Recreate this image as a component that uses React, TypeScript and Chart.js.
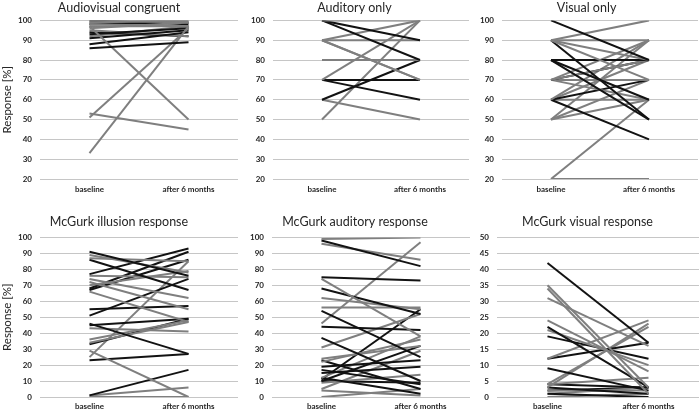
import React, { useEffect, useRef } from 'react';
import { Chart, registerables } from 'chart.js';

Chart.register(...registerables);

const categories = ['baseline', 'after 6 months'];

// 1 = black line, 0 = gray line
const avBase = [99, 100, 98, 86, 97, 33, 88, 51, 91, 96, 93, 53, 95, 100, 97, 94, 99, 92, 98];
const avAfter = [100, 99, 97, 89, 50, 97, 94, 96, 95, 99, 96, 45, 92, 98, 97, 92, 100, 97, 99];
const avGroup = [0, 0, 0, 1, 0, 0, 1, 0, 1, 0, 1, 0, 0, 1, 0, 1, 0, 0, 1];

const audBase = [100, 100, 100, 90, 90, 90, 90, 80, 70, 70, 70, 60, 60, 50];
const audAfter = [100, 90, 80, 100, 90, 70, 70, 80, 100, 70, 60, 80, 50, 100];
const audGroup = [0, 1, 1, 0, 0, 0, 0, 0, 0, 1, 1, 1, 0, 0];

const visBase = [100, 90, 90, 90, 90, 90, 80, 80, 80, 70, 70, 70, 70, 70, 60, 60, 60, 60, 60, 50, 50, 50, 20, 20];
const visAfter = [80, 100, 90, 80, 70, 50, 60, 80, 50, 90, 80, 80, 60, 70, 90, 70, 40, 80, 60, 60, 70, 90, 60, 20];
const visGroup = [1, 0, 0, 0, 0, 1, 1, 1, 1, 0, 0, 1, 0, 0, 0, 1, 1, 0, 0, 0, 0, 0, 0, 0];

const illBase = [91, 89, 87, 86, 77, 76, 74, 72, 70, 68, 67, 66, 55, 51, 46, 45, 43, 36, 34, 33, 29, 25, 23, 1, 1, 0];
const illAfter = [76, 78, 85, 67, 93, 75, 62, 55, 79, 91, 86, 47, 57, 74, 27, 49, 41, 48, 47, 49, 0, 85, 27, 17, 6, 0];
const illGroup = [1, 0, 0, 1, 1, 0, 0, 0, 0, 1, 1, 0, 1, 1, 1, 1, 0, 0, 0, 1, 0, 0, 1, 1, 0, 0];

const audRBase = [99, 98, 96, 75, 74, 68, 62, 56, 54, 46, 44, 37, 31, 24, 22, 23, 19, 17, 15, 12, 11, 10, 12, 9, 5, 4, 10, 0];
const audRAfter = [100, 82, 86, 73, 38, 52, 55, 56, 25, 97, 42, 10, 52, 32, 36, 5, 23, 8, 19, 38, 55, 32, 2, 14, 29, 1, 9, 5];
const audRGroup = [0, 1, 0, 1, 0, 1, 0, 0, 1, 0, 1, 1, 0, 0, 0, 1, 1, 1, 1, 0, 1, 1, 1, 0, 0, 0, 1, 0];

const visRBase = [42, 35, 34, 31, 24, 22, 21, 19, 12, 12, 9, 4, 3, 4, 4, 3, 2, 1, 1, 0, 2];
const visRAfter = [17, 3, 1, 16, 8, 3, 10, 12, 24, 17, 2, 22, 23, 6, 3, 1, 2, 0, 3, 1, 3];
const visRGroup = [1, 0, 0, 0, 0, 1, 0, 1, 0, 1, 1, 0, 0, 0, 1, 1, 0, 1, 0, 0, 1];

const FONT = 'Lato, "Open Sans", sans-serif';
const BLACK = '#121212';
const GRAY = '#7f7f7f';
const TEXT = '#262626';

type PanelProps = {
  title: string;
  base: number[];
  after: number[];
  group: number[];
  min: number;
  max: number;
  step: number;
  left: number;
  top: number;
  width: number;
  height: number;
  axisW: number;
  padRight: number;
  showYTitle: boolean;
  titlePadTop: number;
  titlePadBottom: number;
  xAxisH: number;
  xTickPad: number;
};

function Panel(p: PanelProps) {
  const ref = useRef<HTMLCanvasElement | null>(null);
  useEffect(() => {
    if (!ref.current) return;
    const datasets = p.base.map((b, i) => ({
      data: [b, p.after[i]],
      borderColor: p.group[i] ? BLACK : GRAY,
      backgroundColor: p.group[i] ? BLACK : GRAY,
      borderWidth: 2,
      pointRadius: 0,
      fill: false,
      tension: 0,
    }));
    const chart = new Chart(ref.current, {
      type: 'line',
      data: { labels: categories, datasets },
      options: {
        responsive: false,
        animation: false,
        layout: { padding: { left: 0, right: p.padRight, top: 0, bottom: 0 } },
        plugins: {
          legend: { display: false },
          tooltip: { enabled: false },
          title: {
            display: true,
            text: p.title,
            color: TEXT,
            font: { family: FONT, size: 12.5, weight: 'normal' },
            padding: { top: p.titlePadTop, bottom: p.titlePadBottom },
          },
        },
        scales: {
          x: {
            offset: true,
            grid: { display: false, drawTicks: false },
            border: { display: false },
            ticks: {
              color: TEXT,
              font: { family: FONT, size: 8, weight: 'bold' },
              padding: p.xTickPad,
              maxRotation: 0,
            },
            afterFit: (s: any) => {
              s.height = p.xAxisH;
            },
          },
          y: {
            min: p.min,
            max: p.max,
            ticks: {
              stepSize: p.step,
              padding: 8,
              color: TEXT,
              font: { family: FONT, size: 8, weight: 'bold' },
            },
            grid: { color: '#c6c6c6', drawTicks: false, lineWidth: 1 },
            border: { display: false },
            title: {
              display: p.showYTitle,
              text: 'Response [%]',
              color: TEXT,
              font: { family: FONT, size: 11.5, weight: 'normal' },
              padding: 0,
            },
            afterFit: (s: any) => {
              s.width = p.axisW;
            },
          },
        },
      },
    } as any);
    return () => chart.destroy();
  }, []);
  return (
    <canvas
      ref={ref}
      width={p.width}
      height={p.height}
      style={{ position: 'absolute', left: p.left, top: p.top, width: p.width, height: p.height }}
    />
  );
}

export default function App() {
  const topRow = { top: 0, height: 200, titlePadTop: 0, titlePadBottom: 5.4, xAxisH: 21, xTickPad: 6 };
  const botRow = { top: 200, height: 210, titlePadTop: 14, titlePadBottom: 8.4, xAxisH: 13, xTickPad: 5 };
  return (
    <div style={{ position: 'absolute', left: 0, top: 0, width: 700, height: 410, overflow: 'hidden', background: '#fff' }}>
      <Panel title="Audiovisual congruent" base={avBase} after={avAfter} group={avGroup} min={20} max={100} step={10}
        left={0} width={260} axisW={40} padRight={22} showYTitle={true} {...topRow} />
      <Panel title="Auditory only" base={audBase} after={audAfter} group={audGroup} min={20} max={100} step={10}
        left={240} width={244} axisW={33} padRight={15} showYTitle={false} {...topRow} />
      <Panel title="Visual only" base={visBase} after={visAfter} group={visGroup} min={20} max={100} step={10}
        left={475} width={234} axisW={27} padRight={11} showYTitle={false} {...topRow} />
      <Panel title="McGurk illusion response" base={illBase} after={illAfter} group={illGroup} min={0} max={100} step={10}
        left={0} width={262} axisW={40} padRight={24} showYTitle={true} {...botRow} />
      <Panel title="McGurk auditory response" base={audRBase} after={audRAfter} group={audRGroup} min={0} max={100} step={10}
        left={240} width={240} axisW={32} padRight={10} showYTitle={false} {...botRow} />
      <Panel title="McGurk visual response" base={visRBase} after={visRAfter} group={visRGroup} min={0} max={50} step={5}
        left={476} width={234} axisW={21} padRight={11} showYTitle={false} {...botRow} />
    </div>
  );
}
